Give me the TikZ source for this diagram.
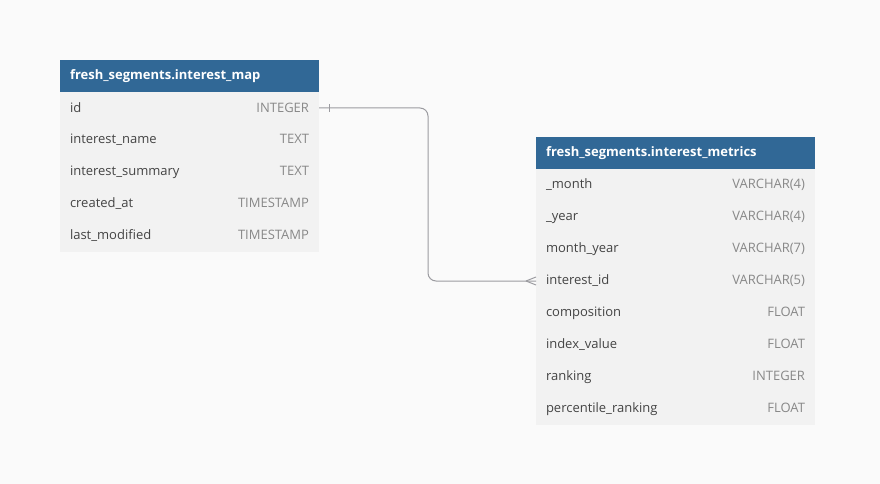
\documentclass[tikz,border=0pt]{standalone}
\usepackage{fontspec}
\setmainfont{Open Sans}
\usetikzlibrary{positioning}
\definecolor{hdblue}{RGB}{49,104,150}
\definecolor{rowgray}{RGB}{242,242,242}
\definecolor{pagegray}{RGB}{250,250,250}
\definecolor{namecol}{RGB}{68,68,68}
\definecolor{typecol}{RGB}{136,136,136}
\definecolor{linkcol}{RGB}{155,155,160}
\newcommand{\fld}[2]{#1\hfill\textcolor{typecol}{#2}}
\tikzstyle{hd} = [rectangle, fill=hdblue, text=white, font=\fontsize{13}{15}\selectfont\bfseries, align=left, inner xsep=10pt, inner ysep=0pt, outer sep=0pt, minimum height=32pt]
\tikzstyle{rw} = [rectangle, fill=rowgray, text=namecol, font=\fontsize{13}{15}\selectfont, align=left, inner xsep=10pt, inner ysep=0pt, outer sep=0pt, minimum height=32pt]
\tikzstyle{lk} = [draw=linkcol, line width=1pt]

\begin{document}
\begin{tikzpicture}[x=1pt, y=-1pt, node distance=0pt]
	\fill [pagegray] (0,0) rectangle (880,484);
	\useasboundingbox (0,0) rectangle (880,484);
	% interest_map
	\node [hd, text width=239pt, anchor=north west] (im) at (60,60) {fresh\_segments.interest\_map};
	\node [rw, below = of im, text width=239pt] (im1) {\fld{id}{INTEGER}};
	\node [rw, below = of im1, text width=239pt] (im2) {\fld{interest\_name}{TEXT}};
	\node [rw, below = of im2, text width=239pt] (im3) {\fld{interest\_summary}{TEXT}};
	\node [rw, below = of im3, text width=239pt] (im4) {\fld{created\_at}{TIMESTAMP}};
	\node [rw, below = of im4, text width=239pt] (im5) {\fld{last\_modified}{TIMESTAMP}};
	% interest_metrics
	\node [hd, text width=259pt, anchor=north west] (mt) at (536,137) {fresh\_segments.interest\_metrics};
	\node [rw, below = of mt, text width=259pt] (mt1) {\fld{\_month}{VARCHAR(4)}};
	\node [rw, below = of mt1, text width=259pt] (mt2) {\fld{\_year}{VARCHAR(4)}};
	\node [rw, below = of mt2, text width=259pt] (mt3) {\fld{month\_year}{VARCHAR(7)}};
	\node [rw, below = of mt3, text width=259pt] (mt4) {\fld{interest\_id}{VARCHAR(5)}};
	\node [rw, below = of mt4, text width=259pt] (mt5) {\fld{composition}{FLOAT}};
	\node [rw, below = of mt5, text width=259pt] (mt6) {\fld{index\_value}{FLOAT}};
	\node [rw, below = of mt6, text width=259pt] (mt7) {\fld{ranking}{INTEGER}};
	\node [rw, below = of mt7, text width=259pt] (mt8) {\fld{percentile\_ranking}{FLOAT}};
	% link
	\draw [lk, rounded corners=8pt] (im1.east) -- ++(109,0) |- (mt4.west);
	\draw [lk] ([xshift=10pt, yshift=-4pt]im1.east) -- ([xshift=10pt, yshift=4pt]im1.east);
	\draw [lk] ([xshift=-10pt]mt4.west) -- ([yshift=4pt]mt4.west);
	\draw [lk] ([xshift=-10pt]mt4.west) -- ([yshift=-4pt]mt4.west);
\end{tikzpicture}
\end{document}
